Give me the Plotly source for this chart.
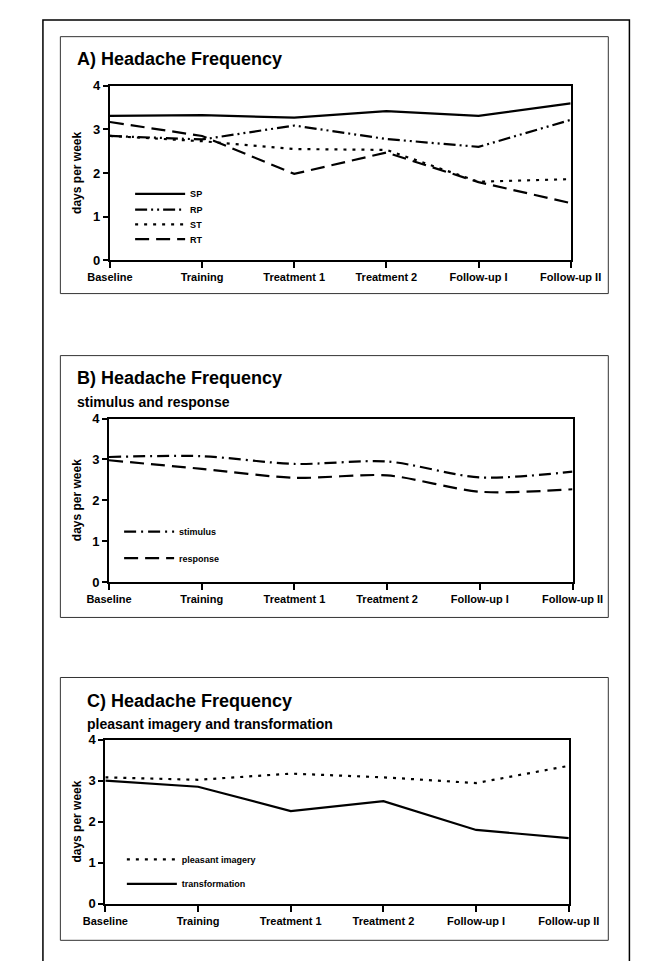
import plotly.graph_objects as go

# ---------------- data ----------------
categories = ["Baseline", "Training", "Treatment 1", "Treatment 2", "Follow-up I", "Follow-up II"]
y_ticks = [0, 1, 2, 3, 4]

# Panel A
sp = [3.31, 3.33, 3.27, 3.42, 3.31, 3.60]
rp = [2.85, 2.77, 3.09, 2.78, 2.60, 3.22]
st = [2.85, 2.73, 2.55, 2.53, 1.80, 1.86]
rt = [3.17, 2.85, 1.98, 2.47, 1.79, 1.31]

# Panel B
stimulus = [3.06, 3.08, 2.89, 2.95, 2.56, 2.70]
response = [2.98, 2.77, 2.55, 2.61, 2.21, 2.27]

# Panel C
pleasant_imagery = [3.08, 3.02, 3.17, 3.08, 2.94, 3.36]
transformation = [3.00, 2.85, 2.26, 2.50, 1.80, 1.60]

titles = ["A) Headache Frequency", "B) Headache Frequency", "C) Headache Frequency"]
subtitles = ["", "stimulus and response", "pleasant imagery and transformation"]
y_title = "days per week"

# ---------------- layout constants ----------------
W, H = 657, 961
def fx(px):
    return px / W
def fy(py):
    return 1 - py / H

FONT = "Liberation Sans, Arial, sans-serif"
NARROW = "Liberation Sans Narrow, Liberation Sans, Arial, sans-serif"

xs = list(range(len(categories)))

fig = go.Figure()

def add(x, y, name, dash, axis, legend, shape="linear"):
    fig.add_trace(go.Scatter(
        x=x, y=y, name=name, mode="lines", showlegend=True,
        line=dict(color="black", width=2.2, dash=dash, shape=shape, smoothing=0.8),
        xaxis="x" + axis, yaxis="y" + axis, legend=legend, hoverinfo="skip",
    ))

add(xs, sp, "SP", "solid", "", "legend")
add(xs, rp, "RP", "12px,4px,2px,4px,2px,4px", "", "legend6")
add(xs, st, "ST", "3px,6px", "", "legend7")
add(xs, rt, "RT", "14px,7px", "", "legend8")

add(xs, stimulus, "stimulus", "12px,5px,2px,5px", "2", "legend2", "spline")
add(xs, response, "response", "14px,7px", "2", "legend3", "spline")

add(xs, pleasant_imagery, "pleasant imagery", "3px,6px", "3", "legend4")
add(xs, transformation, "transformation", "solid", "3", "legend5")

# plot areas in pixels: (left, right, top, bottom)
areas = [(86, 588, 72, 249), (85, 590, 410, 576), (81, 586, 736, 903)]

layout = dict(
    width=W, height=H, margin=dict(l=0, r=0, t=0, b=0),
    paper_bgcolor="white", plot_bgcolor="white", showlegend=True,
    font=dict(family=FONT, color="black"),
)

for i, (l, r, t, b) in enumerate(areas):
    sfx = "" if i == 0 else str(i + 1)
    layout["xaxis" + sfx] = dict(
        domain=[fx(l), fx(r)], anchor="y" + sfx, range=[0, len(categories) - 1],
        tickvals=xs, ticktext=categories, showgrid=False, zeroline=False,
        showline=True, linecolor="black", linewidth=2, mirror=True,
        ticks="outside", ticklen=6, tickwidth=2, tickcolor="black",
        tickfont=dict(family=NARROW, size=11, color="black", weight="bold"),
    )
    layout["yaxis" + sfx] = dict(
        domain=[fy(b), fy(t)], anchor="x" + sfx, range=[0, 4],
        tickvals=y_ticks, showgrid=False, zeroline=False,
        showline=True, linecolor="black", linewidth=2, mirror=True,
        ticks="outside", ticklen=5, tickwidth=2, tickcolor="black",
        tickfont=dict(family=FONT, size=13, color="black", weight="bold"),
    )

legend_font = dict(family=NARROW, size=9, color="black", weight="bold")
legend_common = dict(
    bgcolor="rgba(0,0,0,0)", borderwidth=0, xanchor="left", yanchor="top",
    itemwidth=50, tracegroupgap=0, font=legend_font, visible=True,
)
# (legend name, left px, top px)
legend_boxes = [
    ("legend", 108, 167), ("legend6", 108, 183), ("legend7", 108, 198), ("legend8", 108, 213),
    ("legend2", 96, 510), ("legend3", 96, 537),
    ("legend4", 99, 843), ("legend5", 99, 868),
]
for name, lx, ly in legend_boxes:
    layout[name] = dict(legend_common, x=fx(lx), y=fy(ly))

shapes = [
    # outer frame
    dict(type="rect", xref="paper", yref="paper", x0=fx(13), x1=fx(652), y0=fy(962), y1=fy(5),
         line=dict(color="black", width=1.5)),
    # panel frames
    dict(type="rect", xref="paper", yref="paper", x0=fx(32), x1=fx(629), y0=fy(283), y1=fy(22),
         line=dict(color="#333333", width=1)),
    dict(type="rect", xref="paper", yref="paper", x0=fx(32), x1=fx(629), y0=fy(612), y1=fy(346),
         line=dict(color="#333333", width=1)),
    dict(type="rect", xref="paper", yref="paper", x0=fx(32), x1=fx(629), y0=fy(940), y1=fy(673),
         line=dict(color="#333333", width=1)),
]

annotations = []
title_pos = [(48, 45), (48, 369), (59, 697)]
sub_pos = [None, (48, 393), (59, 720)]
for i in range(3):
    tx, ty = title_pos[i]
    annotations.append(dict(text=titles[i], x=fx(tx), y=fy(ty), xref="paper", yref="paper",
                            xanchor="left", yanchor="middle", showarrow=False,
                            font=dict(family=FONT, size=18, color="black", weight="bold")))
    if sub_pos[i]:
        sx, sy = sub_pos[i]
        annotations.append(dict(text=subtitles[i], x=fx(sx), y=fy(sy), xref="paper", yref="paper",
                                xanchor="left", yanchor="middle", showarrow=False,
                                font=dict(family=FONT, size=14, color="black", weight="bold")))
    l, r, t, b = areas[i]
    annotations.append(dict(text=y_title, x=fx(50), y=fy((t + b) / 2), xref="paper", yref="paper",
                            xanchor="center", yanchor="middle", showarrow=False, textangle=-90,
                            font=dict(family=FONT, size=12, color="black", weight="bold")))

layout["shapes"] = shapes
layout["annotations"] = annotations
fig.update_layout(**layout)

fig.write_html("out.html")
